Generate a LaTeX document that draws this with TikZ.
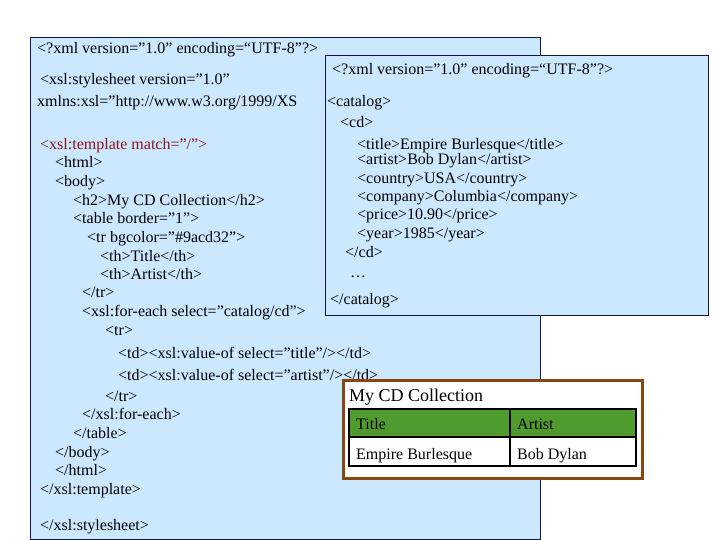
\documentclass[tikz,border=0pt]{standalone}
\usepackage{fontspec}
\setmainfont{Liberation Serif}
\newcommand\qq{\symbol{34}}
\definecolor{bluefill}{RGB}{204,232,255}
\definecolor{navy}{RGB}{20,20,70}
\definecolor{brownb}{RGB}{139,69,19}
\definecolor{hdr}{RGB}{80,155,45}
\definecolor{tmpl}{RGB}{140,20,30}
\begin{document}
\begin{tikzpicture}[x=1pt,y=-1pt,
  t/.style={anchor=base west,inner sep=0pt,font=\fontsize{16}{18}\selectfont},
  cell/.style={anchor=base west,inner sep=0pt,font=\fontsize{16}{18}\selectfont}]
\useasboundingbox (0,0) rectangle (720,540);
\fill[white] (0,0) rectangle (720,540);
\draw[navy,fill=bluefill] (30.5,37.5) rectangle (540.5,539.5);
\node[t] (a1) at (37,54) {<?xml version=\qq1.0\qq{} encoding=“UTF-8\qq?>};
\node[t] (a2) at (40,85) {<xsl:stylesheet version=\qq1.0\qq};
\node[t] (a3) at (37,107) {xmlns:xsl=\qq http://www.w3.org/1999/XS};
\node[t,text=tmpl] (a4) at (40,150) {<xsl:template match=\qq/\qq>};
\node[t] (a5) at (55,168) {<html>};
\node[t] (a6) at (55,187) {<body>};
\node[t] (a7) at (73,206) {<h2>My CD Collection</h2>};
\node[t] (a8) at (73,224) {<table border=\qq1\qq>};
\node[t] (a9) at (87,242) {<tr bgcolor=\qq\#9acd32\qq>};
\node[t] (a10) at (100,261) {<th>Title</th>};
\node[t] (a11) at (100,279) {<th>Artist</th>};
\node[t] (a12) at (82,297) {</tr>};
\node[t] (a13) at (82,316) {<xsl:for-each select=\qq catalog/cd\qq>};
\node[t] (a14) at (105,335) {<tr>};
\node[t] (a15) at (118,358) {<td><xsl:value-of select=\qq title\qq/></td>};
\node[t] (a16) at (118,380) {<td><xsl:value-of select=\qq artist\qq/></td>};
\node[t] (a17) at (105,401) {</tr>};
\node[t] (a18) at (82,419) {</xsl:for-each>};
\node[t] (a19) at (73,438) {</table>};
\node[t] (a20) at (55,457) {</body>};
\node[t] (a21) at (55,475) {</html>};
\node[t] (a22) at (40,494) {</xsl:template>};
\node[t] (a23) at (40,530) {</xsl:stylesheet>};
% XML box
\draw[navy,fill=bluefill] (325.5,55.5) rectangle (708.5,315.5);
\node[t] (b1) at (332,75) {<?xml version=\qq1.0\qq{} encoding=“UTF-8\qq?>};
\node[t] (b2) at (327,107) {<catalog>};
\node[t] (b3) at (340,128) {<cd>};
\node[t] (b4) at (357,150) {<title>Empire Burlesque</title>};
\node[t] (b5) at (357,165) {<artist>Bob Dylan</artist>};
\node[t] (b6) at (357,184) {<country>USA</country>};
\node[t] (b7) at (357,202) {<company>Columbia</company>};
\node[t] (b8) at (357,220) {<price>10.90</price>};
\node[t] (b9) at (357,239) {<year>1985</year>};
\node[t] (b10) at (345,257) {</cd>};
\node[t] (b11) at (350,277) {…};
\node[t] (b12) at (330,304) {</catalog>};
% result box
\draw[brownb,line width=3pt,fill=white] (343,380) rectangle (642,478);
\node[anchor=base west,inner sep=0pt,font=\fontsize{18}{20}\selectfont] (c0) at (349,401) {My CD Collection};
\fill[hdr] (349,409) rectangle (636,437);
\draw[black,line width=2.5pt] (349,409) rectangle (636,466);
\draw[black,line width=2pt] (349,437) -- (636,437);
\draw[black,line width=2pt] (510,409) -- (510,466);
\node[cell] (c1) at (356,429) {Title};
\node[cell] (c2) at (517,429) {Artist};
\node[cell] (c3) at (356,459) {Empire Burlesque};
\node[cell] (c4) at (517,459) {Bob Dylan};
\end{tikzpicture}
\end{document}
